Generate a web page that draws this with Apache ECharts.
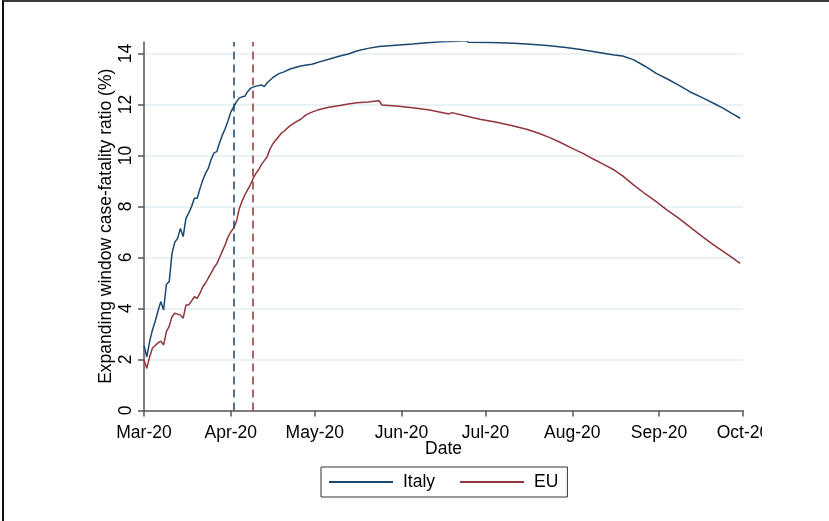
<!DOCTYPE html>
<html>
<head>
<meta charset="utf-8">
<script src="https://cdn.jsdelivr.net/npm/echarts@6/dist/echarts.min.js"></script>
<style>
    html, body { margin: 0; padding: 0; background: #fff; }
    #frame { position: absolute; left: 2px; top: 0; width: 827px; height: 521px; z-index: 2; pointer-events: none;
             border-top: 2px solid #3a3a3a; border-left: 2px solid #111; box-sizing: border-box; }
    #chart { position: absolute; left: 0; top: 0; width: 762px; height: 521px; z-index: 1; }
</style>
</head>
<body>
<div id="frame"></div>
<div id="chart"></div>
<script>
// days since 1 Mar 2020
var italyDay = [0, 1, 2, 3, 4, 5, 6, 7, 8, 9, 10, 11, 12, 13, 14, 15, 16, 17, 18, 19,
    20, 21, 22, 23, 24, 25, 26, 27, 28, 29, 30, 31, 32, 33, 34, 35, 36, 37, 38, 39,
    40, 42, 43, 44, 46, 48, 50, 52, 54, 56, 58, 60, 63, 66, 70, 73, 76, 80, 84, 90,
    96, 100, 106, 112, 115, 116, 124, 132, 138, 144, 150, 156, 162, 168, 171, 175, 179, 183, 187, 191,
    195, 200, 204, 207, 210, 213];
var italyValue = [2.55, 2.1, 2.7, 3.15, 3.5, 3.9, 4.27, 3.94, 4.95, 5.05, 6.15, 6.6, 6.75, 7.14, 6.82, 7.54, 7.75, 8.0, 8.32, 8.32,
    8.7, 9.04, 9.3, 9.5, 9.85, 10.1, 10.15, 10.5, 10.8, 11.05, 11.35, 11.7, 11.9, 12.1, 12.25, 12.3, 12.32, 12.5, 12.63, 12.68,
    12.72, 12.76, 12.7, 12.85, 13.05, 13.2, 13.28, 13.38, 13.45, 13.51, 13.55, 13.58, 13.68, 13.77, 13.9, 13.98, 14.1, 14.2, 14.27, 14.32,
    14.37, 14.41, 14.46, 14.48, 14.5, 14.44, 14.43, 14.4, 14.36, 14.31, 14.24, 14.16, 14.05, 13.94, 13.9, 13.75, 13.5, 13.22, 13.0, 12.76,
    12.5, 12.24, 12.02, 11.85, 11.65, 11.46];

var euDay = [0, 1, 2, 3, 4, 5, 6, 7, 8, 9, 10, 11, 12, 13, 14, 15, 16, 17, 18, 19,
    20, 21, 22, 23, 24, 25, 26, 27, 28, 29, 30, 31, 32, 33, 34, 35, 36, 37, 38, 39,
    40, 41, 42, 43, 44, 45, 46, 47, 48, 49, 50, 52, 54, 56, 58, 60, 62, 66, 70, 73,
    76, 80, 83, 84, 85, 90, 96, 102, 109, 110, 115, 120, 126, 132, 137, 141, 145, 149, 153, 157,
    160, 164, 168, 171, 175, 179, 183, 187, 191, 195, 199, 203, 207, 210, 213];
var euValue = [1.98, 1.65, 2.1, 2.44, 2.55, 2.65, 2.72, 2.57, 3.09, 3.3, 3.68, 3.81, 3.78, 3.75, 3.62, 4.14, 4.14, 4.3, 4.46, 4.4,
    4.6, 4.85, 5.0, 5.2, 5.4, 5.6, 5.75, 6.0, 6.25, 6.5, 6.8, 7.0, 7.15, 7.4, 7.9, 8.2, 8.45, 8.65, 8.85, 9.1,
    9.3, 9.45, 9.65, 9.8, 9.95, 10.25, 10.45, 10.6, 10.72, 10.87, 10.95, 11.15, 11.3, 11.42, 11.6, 11.7, 11.78, 11.89, 11.96, 12.02,
    12.07, 12.1, 12.14, 12.15, 11.98, 11.94, 11.87, 11.78, 11.63, 11.68, 11.55, 11.42, 11.3, 11.16, 11.02, 10.87, 10.7, 10.5, 10.28, 10.07,
    9.89, 9.66, 9.43, 9.2, 8.84, 8.5, 8.19, 7.85, 7.54, 7.2, 6.86, 6.53, 6.23, 6.0, 5.77];

var monthLabels = ['Jan', 'Feb', 'Mar', 'Apr', 'May', 'Jun', 'Jul', 'Aug', 'Sep', 'Oct', 'Nov', 'Dec'];
var yTicks = [2, 4, 6, 8, 10, 12, 14];
// dashed reference lines (days since 1 Mar 2020)
var italyMarkDay = 32;
var euMarkDay = 39;

var BLUE = '#1a476f';
var RED = '#90353b';
var FONT = '"Liberation Sans", Arial, sans-serif';
var FS = 17.5;

function toTime(day) {
    return Date.UTC(2020, 2, 1 + day);
}
function pairs(days, values) {
    var arr = [];
    for (var i = 0; i < days.length; i++) {
        arr.push([toTime(days[i]), values[i]]);
    }
    return arr;
}

var chart = echarts.init(document.getElementById('chart'));
var option = {
    useUTC: true,
    animation: false,
    backgroundColor: '#fff',
    grid: { left: 144, right: 19, top: 42, bottom: 110.5, outerBoundsMode: 'none' },
    legend: {
        left: 321,
        top: 467,
        padding: [6, 9, 6, 8],
        itemGap: 25,
        itemWidth: 64,
        itemHeight: 2,
        icon: 'rect',
        borderColor: '#333',
        borderWidth: 1,
        textStyle: { fontFamily: FONT, fontSize: FS, color: '#000', padding: [0, 0, 0, 5] },
        data: ['Italy', 'EU']
    },
    xAxis: {
        type: 'time',
        min: toTime(0),
        max: toTime(214),
        minInterval: 28 * 86400000,
        maxInterval: 31 * 86400000,
        name: 'Date',
        nameLocation: 'middle',
        nameGap: 30,
        nameMoveOverlap: false,
        nameTextStyle: { fontFamily: FONT, fontSize: FS, color: '#000' },
        axisLine: { lineStyle: { color: '#555', width: 1.5 } },
        axisTick: { length: 6, lineStyle: { color: '#555', width: 1.5 } },
        axisLabel: {
            fontFamily: FONT, fontSize: FS, color: '#000', margin: 14,
            showMinLabel: true, showMaxLabel: true, hideOverlap: false,
            formatter: function (v) {
                var d = new Date(v);
                return monthLabels[d.getUTCMonth()] + '-' + String(d.getUTCFullYear()).slice(2);
            }
        },
        splitLine: { show: false }
    },
    yAxis: {
        type: 'value',
        min: 0,
        max: 14.45,
        interval: 2,
        name: 'Expanding window case-fatality ratio (%)',
        nameLocation: 'middle',
        nameRotate: 90,
        nameGap: 29,
        nameMoveOverlap: false,
        nameTextStyle: { fontFamily: FONT, fontSize: FS, color: '#000' },
        axisLine: { show: true, lineStyle: { color: '#555', width: 1.5 } },
        axisTick: { show: true, length: 6, lineStyle: { color: '#555', width: 1.5 } },
        axisLabel: {
            fontFamily: FONT, fontSize: FS, color: '#000', rotate: 90, margin: 9,
            showMaxLabel: false,
            formatter: function (v) { return v % 2 === 0 ? String(v) : ''; }
        },
        splitLine: { show: false }
    },
    series: [{
        name: 'Italy',
        type: 'line',
        showSymbol: false,
        symbol: 'none',
        lineStyle: { color: BLUE, width: 1.5 },
        itemStyle: { color: BLUE },
        data: pairs(italyDay, italyValue),
        z: 3,
        markLine: {
            silent: true,
            symbol: 'none',
            label: { show: false },
            data: [
                { xAxis: toTime(italyMarkDay), lineStyle: { color: BLUE, type: [8, 5], width: 1.5 } }
            ]
        }
    }, {
        name: 'EU',
        type: 'line',
        showSymbol: false,
        symbol: 'none',
        lineStyle: { color: RED, width: 1.5 },
        itemStyle: { color: RED },
        data: pairs(euDay, euValue),
        z: 3,
        markLine: {
            silent: true,
            symbol: 'none',
            label: { show: false },
            data: [
                { xAxis: toTime(euMarkDay), lineStyle: { color: RED, type: [8, 5], width: 1.5 } }
            ]
        }
    }, {
        // light horizontal grid lines
        name: 'grid',
        type: 'line',
        data: [],
        z: 0,
        markLine: {
            silent: true,
            z: 0,
            symbol: 'none',
            label: { show: false },
            lineStyle: { color: '#eaf2f3', type: 'solid', width: 2 },
            data: yTicks.map(function (v) { return { yAxis: v }; })
        }
    }]
};
chart.setOption(option);
</script>
</body>
</html>
